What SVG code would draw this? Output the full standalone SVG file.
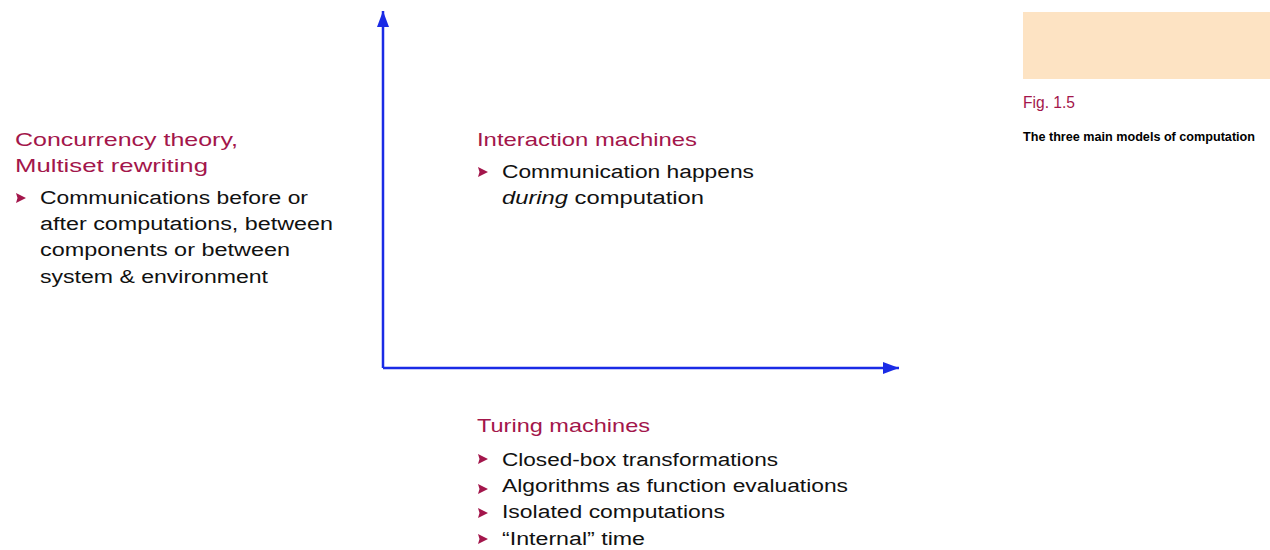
<svg xmlns="http://www.w3.org/2000/svg" width="1270" height="550" viewBox="0 0 1270 550">
<style>
text{font-family:"Liberation Sans",Arial,sans-serif}
.h{fill:#a3164b;font-size:19px}
.t{fill:#111;font-size:18px}
.b{fill:#a3164b}
.ax{stroke:#1a2be6;stroke-width:2.5;fill:none}
</style>
<defs>
<marker id="ar" viewBox="0 0 16 12" refX="16" refY="6" markerWidth="16" markerHeight="12" markerUnits="userSpaceOnUse" orient="auto">
<path d="M0,0 L16,6 L0,12 z" fill="#1a2be6"/>
</marker>
<polygon id="bul" points="0,0 10,5 0,10 1.5,5" class="b"/>
</defs>
<rect width="1270" height="550" fill="#fff"/>
<g id="connectors">
<path class="ax" d="M383,368 L383,11" marker-end="url(#ar)"/>
<path class="ax" d="M383,368 L899,368" marker-end="url(#ar)"/>
</g>
<g id="concurrency">
<text class="h" x="15" y="146" textLength="223" lengthAdjust="spacingAndGlyphs">Concurrency theory,</text>
<text class="h" x="15" y="172" textLength="193" lengthAdjust="spacingAndGlyphs">Multiset rewriting</text>
<use href="#bul" x="16" y="193"/>
<text class="t" x="40" y="204" textLength="268" lengthAdjust="spacingAndGlyphs">Communications before or</text>
<text class="t" x="40" y="230" textLength="293" lengthAdjust="spacingAndGlyphs">after computations, between</text>
<text class="t" x="40" y="256" textLength="250" lengthAdjust="spacingAndGlyphs">components or between</text>
<text class="t" x="40" y="283" textLength="228" lengthAdjust="spacingAndGlyphs">system &amp; environment</text>
</g>
<g id="interaction">
<text class="h" x="477" y="146" textLength="220" lengthAdjust="spacingAndGlyphs">Interaction machines</text>
<use href="#bul" x="478" y="167"/>
<text class="t" x="502" y="178" textLength="252" lengthAdjust="spacingAndGlyphs">Communication happens</text>
<text class="t" x="502" y="204" textLength="202" lengthAdjust="spacingAndGlyphs"><tspan font-style="italic">during</tspan> computation</text>
</g>
<g id="turing">
<text class="h" x="477" y="432" textLength="173" lengthAdjust="spacingAndGlyphs">Turing machines</text>
<use href="#bul" x="478" y="454"/>
<text class="t" x="502" y="466" textLength="276" lengthAdjust="spacingAndGlyphs">Closed-box transformations</text>
<use href="#bul" x="478" y="484"/>
<text class="t" x="502" y="492" textLength="346" lengthAdjust="spacingAndGlyphs">Algorithms as function evaluations</text>
<use href="#bul" x="478" y="508"/>
<text class="t" x="502" y="518" textLength="223" lengthAdjust="spacingAndGlyphs">Isolated computations</text>
<use href="#bul" x="478" y="534"/>
<text class="t" x="502" y="545" textLength="143" lengthAdjust="spacingAndGlyphs">“Internal” time</text>
</g>
<g id="caption">
<rect x="1023" y="12" width="247" height="67" fill="#fde3c3"/>
<text x="1023" y="108" fill="#a3164b" font-size="17" textLength="52" lengthAdjust="spacingAndGlyphs">Fig. 1.5</text>
<text x="1023" y="141" fill="#000" font-size="13" font-weight="bold" textLength="232" lengthAdjust="spacingAndGlyphs">The three main models of computation</text>
</g>
</svg>
